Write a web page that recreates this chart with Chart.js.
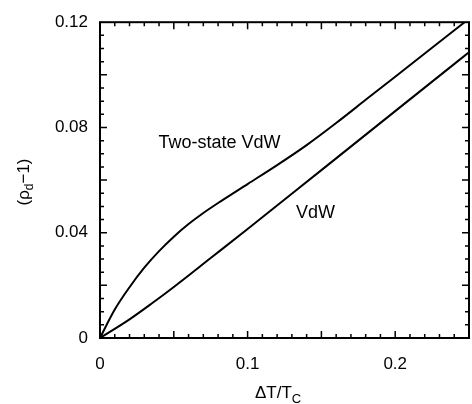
<!DOCTYPE html>
<html>
<head>
<meta charset="utf-8">
<script src="https://cdn.jsdelivr.net/npm/chart.js@4.4.0/dist/chart.umd.min.js"></script>
<style>
  html, body { margin: 0; padding: 0; background: #fff; }
  #wrap { width: 472px; height: 404px; }
</style>
</head>
<body>
<div id="wrap"><canvas id="grafica"></canvas></div>
<script>
// valores
const xTwoState = [0, 0.01, 0.02, 0.03, 0.04, 0.05, 0.06, 0.07, 0.08, 0.10, 0.12, 0.14, 0.16, 0.18, 0.20, 0.22, 0.25];
const yTwoState = [0, 0.0108, 0.0193, 0.0267, 0.033, 0.0385, 0.0433, 0.0475, 0.0513, 0.0585, 0.0657, 0.0733, 0.0817, 0.0905, 0.0993, 0.1081, 0.1213];
const xVdW = [0, 0.02, 0.035, 0.05, 0.075, 0.10, 0.15, 0.20, 0.25];
const yVdW = [0, 0.0071, 0.0131, 0.0194, 0.0304, 0.0414, 0.0638, 0.0862, 0.1086];

const xTicks = [0, 0.1, 0.2];
const yTicks = [0, 0.04, 0.08, 0.12];
const curveLabels = [
  { text: "Two-state VdW", x: 0.081, y: 0.0742 },
  { text: "VdW", x: 0.146, y: 0.0474 }
];

const FUENTE = "'Liberation Sans', Arial, sans-serif";

function puntos(xs, ys) {
  return xs.map((x, i) => ({ x: x, y: ys[i] }));
}

// marco, marcas menores y textos
const marcoPlugin = {
  id: "marco",
  afterDraw(chart) {
    const ctx = chart.ctx;
    const a = chart.chartArea;
    const sx = chart.scales.x, sy = chart.scales.y;
    ctx.save();
    ctx.strokeStyle = "#000";
    ctx.lineWidth = 2;
    ctx.strokeRect(a.left, a.top, a.right - a.left, a.bottom - a.top);

    ctx.lineWidth = 1.5;
    ctx.beginPath();
    for (let i = 1; i < 25; i++) {
      const px = sx.getPixelForValue(i / 100);
      const len = i % 5 === 0 ? 7 : 4;
      ctx.moveTo(px, a.bottom); ctx.lineTo(px, a.bottom - len);
      ctx.moveTo(px, a.top); ctx.lineTo(px, a.top + len);
    }
    for (let i = 1; i < 24; i++) {
      const py = sy.getPixelForValue(i * 0.005);
      const len = i % 4 === 0 ? 7 : 4;
      ctx.moveTo(a.left, py); ctx.lineTo(a.left + len, py);
      ctx.moveTo(a.right, py); ctx.lineTo(a.right - len, py);
    }
    ctx.stroke();

    // etiquetas de las curvas
    ctx.fillStyle = "#000";
    ctx.font = "18px " + FUENTE;
    ctx.textAlign = "center";
    ctx.textBaseline = "middle";
    curveLabels.forEach(l => {
      ctx.fillText(l.text, sx.getPixelForValue(l.x), sy.getPixelForValue(l.y));
    });

    // titulo eje x: ΔT/Tc
    ctx.font = "17px " + FUENTE;
    ctx.textAlign = "left";
    ctx.textBaseline = "alphabetic";
    const t1 = "\u0394T/T";
    const w1 = ctx.measureText(t1).width;
    const x0 = 255;
    ctx.fillText(t1, x0, 398);
    ctx.font = "13px " + FUENTE;
    ctx.fillText("C", x0 + w1, 403);

    // titulo eje y: (ρd-1)
    ctx.translate(29, 182);
    ctx.rotate(-Math.PI / 2);
    const partes = [["(\u03c1", 0, 17], ["d", 4, 12], ["\u22121)", 0, 17]];
    let total = 0;
    partes.forEach(p => { ctx.font = p[2] + "px " + FUENTE; total += ctx.measureText(p[0]).width; });
    let cx = -total / 2;
    partes.forEach(p => {
      ctx.font = p[2] + "px " + FUENTE;
      ctx.fillText(p[0], cx, p[1]);
      cx += ctx.measureText(p[0]).width;
    });
    ctx.restore();
  }
};

new Chart(document.getElementById("grafica"), {
  type: "line",
  data: {
    datasets: [
      {
        label: "Two-state VdW",
        data: puntos(xTwoState, yTwoState),
        borderColor: "#000",
        borderWidth: 2,
        pointRadius: 0,
        cubicInterpolationMode: "monotone"
      },
      {
        label: "VdW",
        data: puntos(xVdW, yVdW),
        borderColor: "#000",
        borderWidth: 2,
        pointRadius: 0,
        cubicInterpolationMode: "monotone"
      }
    ]
  },
  options: {
    responsive: true,
    maintainAspectRatio: false,
    animation: false,
    layout: { padding: { left: 0, right: 3, top: 19, bottom: 0 } },
    plugins: { legend: { display: false }, tooltip: { enabled: false } },
    scales: {
      x: {
        type: "linear",
        min: 0,
        max: 0.25,
        grid: { display: false, drawTicks: false },
        border: { display: false },
        afterFit: s => { s.height = 66; },
        afterBuildTicks: s => { s.ticks = xTicks.map(v => ({ value: v })); },
        ticks: {
          padding: 16,
          color: "#000",
          font: { size: 17, family: FUENTE },
          callback: v => String(v)
        }
      },
      y: {
        type: "linear",
        min: 0,
        max: 0.12,
        grid: { display: false, drawTicks: false },
        border: { display: false },
        afterFit: s => { s.width = 100; },
        afterBuildTicks: s => { s.ticks = yTicks.map(v => ({ value: v })); },
        ticks: {
          padding: 12,
          color: "#000",
          font: { size: 17, family: FUENTE },
          callback: v => String(v)
        }
      }
    }
  },
  plugins: [marcoPlugin]
});
</script>
</body>
</html>
